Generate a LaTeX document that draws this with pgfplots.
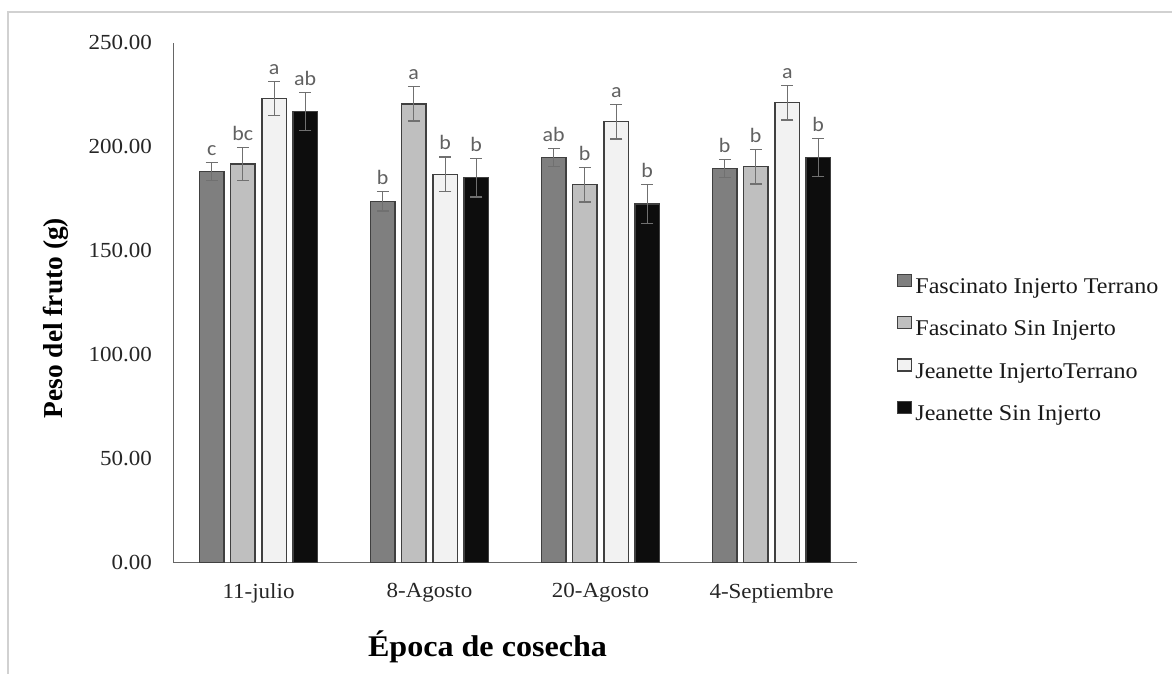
\documentclass[border=0pt]{standalone}
\usepackage{pgfplots}
\pgfplotsset{compat=1.18}
\usepackage{pgfplotstable}
\usepackage{fontspec}
\setmainfont{Liberation Serif}
\newfontfamily\stretchserif[FakeStretch=1.07]{Liberation Serif}
\newfontfamily\lettersans[FakeStretch=1.07]{Carlito}
\definecolor{cA}{HTML}{7F7F7F}
\definecolor{cB}{HTML}{BFBFBF}
\definecolor{cC}{HTML}{F2F2F2}
\definecolor{cD}{HTML}{0D0D0D}
\definecolor{edge}{HTML}{404040}
\definecolor{errc}{HTML}{707070}

\pgfplotstableread{
g y e lab
1 188.1 4.3 c
2 173.9 4.7 b
3 194.9 4.3 ab
4 189.6 4.3 b
}\sA
\pgfplotstableread{
g y e lab
1 191.8 8.1 bc
2 220.7 8.2 a
3 181.9 8.3 b
4 190.5 8.3 b
}\sB
\pgfplotstableread{
g y e lab
1 223.2 8.2 a
2 186.9 8.3 b
3 212.2 8.4 a
4 221.3 8.3 a
}\sC
\pgfplotstableread{
g y e lab
1 217.0 9.2 ab
2 185.2 9.2 b
3 172.6 9.5 b
4 194.9 9.2 b
}\sD

\pgfplotsset{
  barstyle/.style={ybar, bar width=24.5pt, bar shift=0pt, draw=edge, line width=1.2pt,
    error bars/y dir=both, error bars/y explicit,
    error bars/error bar style={draw=errc, line width=1.2pt},
    error bars/error mark options={rotate=90, mark size=6pt, draw=errc, line width=1.2pt}},
  labstyle/.style={forget plot, only marks, mark=*, mark size=0pt, mark options={draw=none, fill=none},
    nodes near coords, point meta=explicit symbolic,
    nodes near coords style={font=\lettersans\fontsize{20.5}{23}\selectfont, text=black!62, anchor=base, inner sep=0pt, yshift=7pt}},
}

\begin{document}
\begin{tikzpicture}[x=1pt,y=1pt]
\useasboundingbox (0,0) rectangle (1172,674);
\draw[black!18, line width=1.5pt] (8,0) -- (8,662) -- (1172,662);
\begin{axis}[
  at={(173pt,111pt)}, anchor=south west,
  scale only axis, width=684pt, height=520pt,
  xmin=0.5, xmax=4.5, ymin=0, ymax=250,
  axis x line*=bottom, axis y line*=left,
  axis line style={-, draw=black!60, line width=1pt},
  major tick length=0pt,
  xtick={1,2,3,4},
  xticklabels={11-julio,8-Agosto,20-Agosto,4-Septiembre},
  ytick={0,50,100,150,200,250},
  /pgf/number format/assume math mode=true,
  y tick label style={/pgf/number format/fixed, /pgf/number format/fixed zerofill, /pgf/number format/precision=2},
  tick label style={font=\stretchserif\fontsize{21.5}{25}\selectfont, text=black!85, inner sep=0pt},
  yticklabel style={anchor=east, xshift=-21pt},
  xticklabel style={anchor=north, yshift=-20pt},
  xlabel={Época de cosecha},
  xlabel style={font=\stretchserif\bfseries\fontsize{30}{34}\selectfont, at={(axis description cs:0.4598,-0.1802)}, anchor=base, inner sep=0pt},
  ylabel={Peso del fruto (g)},
  ylabel style={font=\bfseries\fontsize{27.4}{30}\selectfont, at={(axis description cs:-0.1613,0.471)}, anchor=base, inner sep=0pt},
  legend image code/.code={\draw[#1] (0pt,0.5pt) rectangle (14pt,12.5pt);},
  legend cell align=left,
  legend style={at={(axis description cs:1.0585,0.4135)}, anchor=west, draw=none, fill=none, inner sep=0pt,
    font=\stretchserif\fontsize{22.5}{26}\selectfont, text=black!90, row sep=21pt, column sep=3pt,
    nodes={inner sep=0pt}},
]
\addplot[barstyle, fill=cA] table[x expr=\thisrow{g}-0.2734, y=y, y error=e] {\sA};
\addlegendentry{Fascinato Injerto Terrano}
\addplot[barstyle, fill=cB] table[x expr=\thisrow{g}-0.0921, y=y, y error=e] {\sB};
\addlegendentry{Fascinato Sin Injerto}
\addplot[barstyle, fill=cC] table[x expr=\thisrow{g}+0.0921, y=y, y error=e] {\sC};
\addlegendentry{Jeanette InjertoTerrano}
\addplot[barstyle, fill=cD] table[x expr=\thisrow{g}+0.2734, y=y, y error=e] {\sD};
\addlegendentry{Jeanette Sin Injerto}

\addplot[labstyle] table[x expr=\thisrow{g}-0.2734, y expr=\thisrow{y}+\thisrow{e}, meta=lab] {\sA};
\addplot[labstyle] table[x expr=\thisrow{g}-0.0921, y expr=\thisrow{y}+\thisrow{e}, meta=lab] {\sB};
\addplot[labstyle] table[x expr=\thisrow{g}+0.0921, y expr=\thisrow{y}+\thisrow{e}, meta=lab] {\sC};
\addplot[labstyle] table[x expr=\thisrow{g}+0.2734, y expr=\thisrow{y}+\thisrow{e}, meta=lab] {\sD};
\end{axis}
\end{tikzpicture}
\end{document}
